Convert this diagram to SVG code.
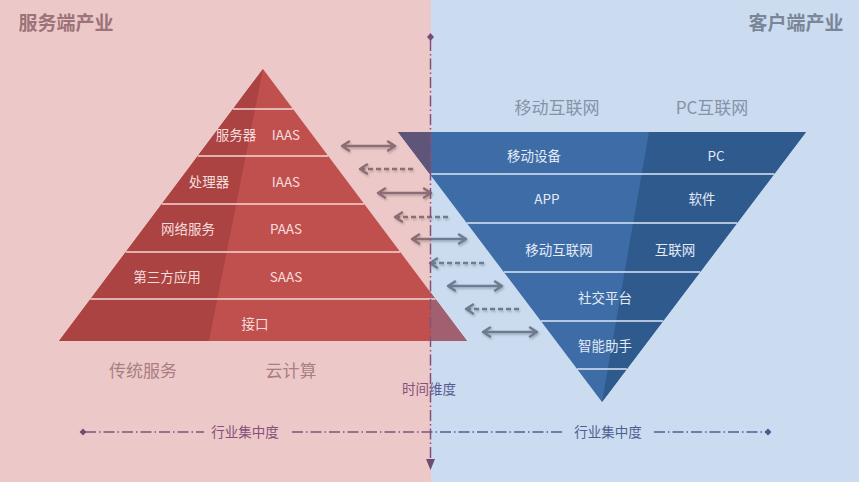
<svg xmlns="http://www.w3.org/2000/svg" width="859" height="482" viewBox="0 0 859 482">
<style>
text{font-family:"Noto Sans CJK SC","Noto Sans",sans-serif;text-anchor:middle;dominant-baseline:central}
.pt{fill:#f6dcdc;font-size:13.5px}
.it{fill:#e2eaf6;font-size:13.5px}
.hdr{fill:#8593a8;font-size:17px}
.sub{fill:#a97d82;font-size:17px}
.title{font-size:19px;font-weight:bold}
.pline{stroke:#f3d6d6;stroke-width:1.5}
.iline{stroke:#dce7f4;stroke-width:1.5}
.arr{fill:none;stroke:url(#sideGrad);stroke-width:2.5;stroke-linecap:round;stroke-linejoin:round}
.dash{stroke-dasharray:5 3;stroke-linecap:butt}
.axis{fill:none;stroke-width:1.5;stroke-dasharray:11 3 1.5 3}
</style>
<defs>
<linearGradient id="sideGrad" gradientUnits="userSpaceOnUse" x1="0" y1="0" x2="859" y2="0">
<stop offset="0" stop-color="#8d6d74"/><stop offset="0.5017" stop-color="#8d6d74"/>
<stop offset="0.5017" stop-color="#6e7c91"/><stop offset="1" stop-color="#6e7c91"/>
</linearGradient>
<linearGradient id="axisGrad" gradientUnits="userSpaceOnUse" x1="0" y1="0" x2="859" y2="0">
<stop offset="0" stop-color="#85507a"/><stop offset="0.5017" stop-color="#85507a"/>
<stop offset="0.5017" stop-color="#5a5a92"/><stop offset="1" stop-color="#5a5a92"/>
</linearGradient>
<filter id="sh" x="-20%" y="-100%" width="140%" height="300%">
<feDropShadow dx="1" dy="1.5" stdDeviation="1" flood-color="#000" flood-opacity="0.25"/>
</filter>
</defs>

<g id="background">
<rect x="0" y="0" width="431" height="482" fill="#ecc9c8"/>
<rect x="431" y="0" width="428" height="482" fill="#cbdcf0"/>
</g>

<g id="titles">
<text class="title" x="66" y="21" fill="#9b7378">服务端产业</text>
<text class="title" x="796" y="21" fill="#7a8698">客户端产业</text>
</g>

<g id="pyramid">
<polygon points="263,69 59,341 467,341" fill="#c0504e"/>
<polygon points="263,69 59,341 209,341" fill="#aa4341"/>
<polygon points="431,293 467,341 431,341" fill="#a0606f"/>
<line class="pline" x1="233" y1="109" x2="293" y2="109"/>
<line class="pline" x1="197.8" y1="156" x2="328.2" y2="156"/>
<line class="pline" x1="161.8" y1="204" x2="364.2" y2="204"/>
<line class="pline" x1="125.8" y1="252" x2="400.2" y2="252"/>
<line class="pline" x1="90.5" y1="299" x2="435.5" y2="299"/>
<text class="pt" x="236" y="134">服务器</text>
<text class="pt" x="286" y="134">IAAS</text>
<text class="pt" x="209" y="181">处理器</text>
<text class="pt" x="286" y="181">IAAS</text>
<text class="pt" x="188" y="228">网络服务</text>
<text class="pt" x="286" y="228">PAAS</text>
<text class="pt" x="167" y="276">第三方应用</text>
<text class="pt" x="286" y="276">SAAS</text>
<text class="pt" x="255" y="323">接口</text>
</g>

<g id="inverted">
<polygon points="398,132 806,132 602,402" fill="#3e6ca6"/>
<polygon points="649,132 806,132 602,402" fill="#2f5a8e"/>
<polygon points="398,132 431,132 431,175.6" fill="#5f5578"/>
<line class="iline" x1="429.7" y1="174" x2="774.3" y2="174"/>
<line class="iline" x1="466.8" y1="223" x2="737.2" y2="223"/>
<line class="iline" x1="503.8" y1="272" x2="700.2" y2="272"/>
<line class="iline" x1="540.8" y1="321" x2="663.2" y2="321"/>
<line class="iline" x1="577.1" y1="369" x2="626.9" y2="369"/>
<text class="it" x="534" y="155">移动设备</text>
<text class="it" x="716" y="155">PC</text>
<text class="it" x="547" y="198">APP</text>
<text class="it" x="702" y="198">软件</text>
<text class="it" x="559" y="249">移动互联网</text>
<text class="it" x="675" y="249">互联网</text>
<text class="it" x="605" y="297">社交平台</text>
<text class="it" x="605" y="345">智能助手</text>
</g>

<g id="headers">
<text class="hdr" x="557" y="106">移动互联网</text>
<text class="hdr" x="712" y="106">PC互联网</text>
<text class="sub" x="143" y="369">传统服务</text>
<text class="sub" x="291" y="369">云计算</text>
</g>

<g id="connectors" filter="url(#sh)">
<path class="arr" d="M342,146 H395 M342,146 l7,-4.5 M342,146 l7,4.5 M395,146 l-7,-4.5 M395,146 l-7,4.5"/>
<path class="arr dash" d="M413,169 H362"/><path class="arr" d="M360,169 l7,-4.5 M360,169 l7,4.5"/>
<path class="arr" d="M378,193 H431 M378,193 l7,-4.5 M378,193 l7,4.5 M431,193 l-7,-4.5 M431,193 l-7,4.5"/>
<path class="arr dash" d="M448,217 H397"/><path class="arr" d="M395,217 l7,-4.5 M395,217 l7,4.5"/>
<path class="arr" d="M412,239 H466 M412,239 l7,-4.5 M412,239 l7,4.5 M466,239 l-7,-4.5 M466,239 l-7,4.5"/>
<path class="arr dash" d="M484,263 H432"/><path class="arr" d="M430,263 l7,-4.5 M430,263 l7,4.5"/>
<path class="arr" d="M448,286 H502 M448,286 l7,-4.5 M448,286 l7,4.5 M502,286 l-7,-4.5 M502,286 l-7,4.5"/>
<path class="arr dash" d="M519,309 H468"/><path class="arr" d="M466,309 l7,-4.5 M466,309 l7,4.5"/>
<path class="arr" d="M483,332 H537 M483,332 l7,-4.5 M483,332 l7,4.5 M537,332 l-7,-4.5 M537,332 l-7,4.5"/>
</g>

<g id="axes">
<path class="axis" stroke="#85507a" d="M430.5,40 V460"/>
<polygon points="430.5,33 434,37 430.5,41 427,37" fill="#7a4a7a"/>
<polygon points="426,459 435,459 430.5,470" fill="#6e4a72"/>
<path class="axis" stroke="url(#axisGrad)" d="M85,432 H204 M292,432 H565 M654,432 H766"/>
<polygon points="83,428.5 86.5,432 83,435.5 79.5,432" fill="#7a4a70"/>
<polygon points="768,428.5 771.5,432 768,435.5 764.5,432" fill="#4f5590"/>
<text x="245" y="431" font-size="13.5px" fill="#85507a">行业集中度</text>
<text x="608" y="431" font-size="13.5px" fill="#4e5e92">行业集中度</text>
<text x="429" y="388" font-size="13.5px" fill="url(#axisGrad)">时间维度</text>
</g>
</svg>
